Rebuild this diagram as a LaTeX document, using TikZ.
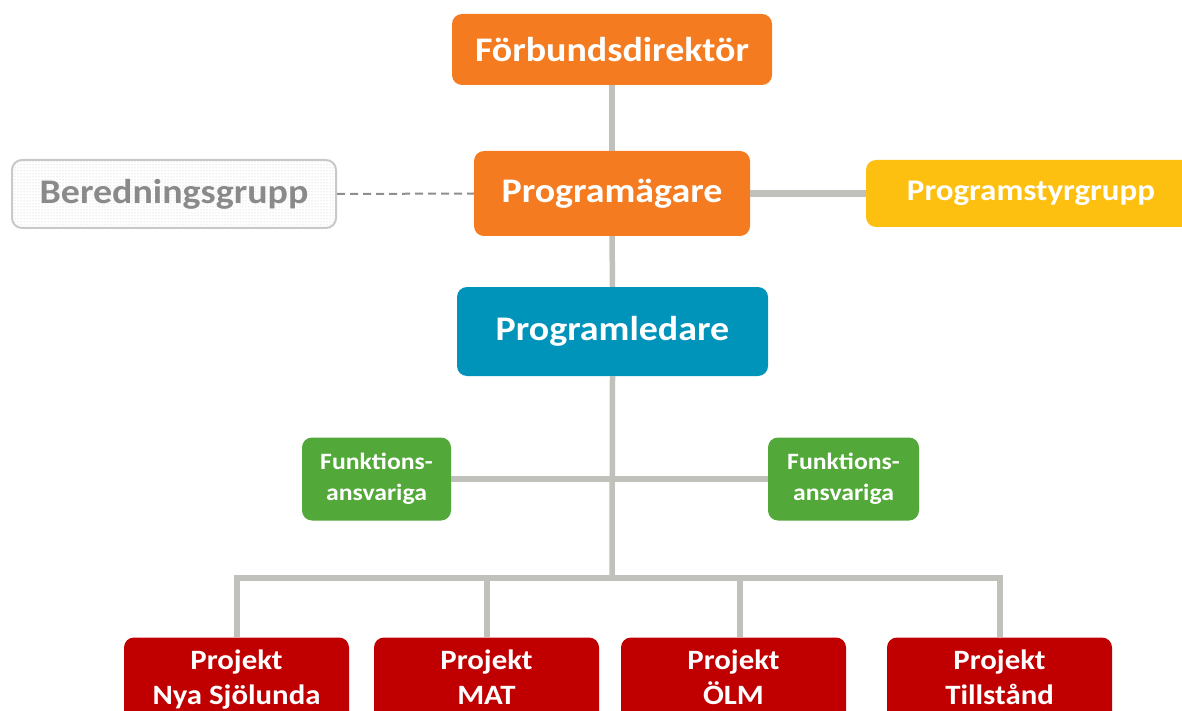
\documentclass[tikz,border=0pt]{standalone}
\usepackage{fontspec}
\setmainfont{Carlito}[FakeStretch=1.1]
\usetikzlibrary{patterns}
\definecolor{orgorange}{HTML}{F47B20}
\definecolor{orgyellow}{HTML}{FDC010}
\definecolor{orgteal}{HTML}{0094BA}
\definecolor{orggreen}{HTML}{52A838}
\definecolor{orgred}{HTML}{C00000}
\definecolor{linkgray}{HTML}{C0C1BB}
\definecolor{dashgray}{HTML}{8E8E8E}
\definecolor{softtext}{HTML}{8A8A8A}
\definecolor{softborder}{HTML}{C8C8C8}
\newcommand{\lowline}[1]{#1\vphantom{y}}
\begin{document}
\begin{tikzpicture}[x=1pt,y=-1pt,
  box/.style={rounded corners=10pt, inner sep=0pt, text=white, align=center},
  bigtext/.style={font=\fontsize{34.5}{38}\selectfont\bfseries},
  link/.style={draw=linkgray, line width=5.5pt},
  softlink/.style={draw=dashgray, line width=2pt, dash pattern=on 8pt off 5pt}
]
\useasboundingbox (0,0) rectangle (1182,711);
\clip (0,0) rectangle (1182,711);

% upper chain
\node[box, bigtext, fill=orgorange, minimum width=320pt, minimum height=71pt] (fd) at (612,49.5) {Förbundsdirektör};
\node[box, bigtext, fill=orgorange, minimum width=276pt, minimum height=85pt] (pa) at (612,193.5) {Programägare};
\node[box, fill=orgyellow, minimum width=330pt, minimum height=67pt,
      font=\fontsize{30}{33}\selectfont\bfseries] (ps) at (1031,193.5) {Programstyrgrupp};
\node[box, fill=white, draw=softborder, line width=2pt, minimum width=324pt, minimum height=68pt] (bg) at (174,194) {};
\fill[pattern=dots, pattern color=gray!45, rounded corners=9pt]
  ([xshift=2pt,yshift=2pt]bg.south west) rectangle ([xshift=-2pt,yshift=-2pt]bg.north east);
\node[bigtext, text=softtext] (bgtext) at (bg.center) {Beredningsgrupp};
\node[box, bigtext, fill=orgteal, minimum width=311pt, minimum height=89pt] (pl) at (612.5,331.5) {Programledare};

% function leads
\node[box, fill=orggreen, minimum width=149pt, minimum height=83pt,
      font=\fontsize{23.4}{31}\selectfont\bfseries] (fl) at (376.5,479) {Funktions-\\ansvariga};
\node[box, fill=orggreen, minimum width=151pt, minimum height=83pt,
      font=\fontsize{23.4}{31}\selectfont\bfseries] (fr) at (843.5,479) {Funktions-\\ansvariga};

% projects (second lines share one depth so all labels sit on the same baselines)
\tikzset{projbox/.style={box, fill=orgred, minimum width=225pt, minimum height=84pt,
      font=\fontsize{28}{35}\selectfont\bfseries}}
\node[projbox] (p1) at (236.5,679.5) {Projekt\\\lowline{Nya Sjölunda}};
\node[projbox] (p2) at (486.5,679.5) {Projekt\\\lowline{MAT}};
\node[projbox] (p3) at (733.5,679.5) {Projekt\\\lowline{ÖLM}};
\node[projbox] (p4) at (999.5,679.5) {Projekt\\\lowline{Tillstånd}};

% bus coordinates
\coordinate (hub) at (612,578);
\coordinate (b1) at (237,578);
\coordinate (b2) at (487,578);
\coordinate (b3) at (740,578);
\coordinate (b4) at (1000,578);

% connectors
\draw[link] (fd.south) -- (pa.north);
\draw[link] (pa.south) -- (pl.north);
\draw[link] (pl.south) -- (hub);
\draw[link, line width=7pt] (pa.east) -- (ps.west);
\draw[softlink] (bg.east) -- (pa.west);
\draw[link, line width=6pt] (fl.east) -- (fr.west);
\draw[link, line cap=rect] (b1) -- (b4);
\draw[link] (b1) -- (b1 |- p1.north);
\draw[link] (b2) -- (b2 |- p2.north);
\draw[link] (b3) -- (b3 |- p3.north);
\draw[link] (b4) -- (b4 |- p4.north);
\end{tikzpicture}
\end{document}
